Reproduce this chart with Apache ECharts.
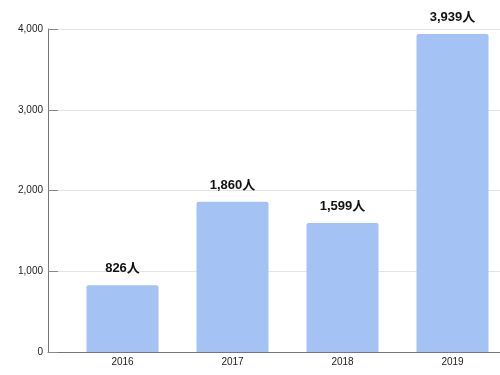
<!DOCTYPE html>
<html>
<head>
<meta charset="utf-8">
<script src="https://cdn.jsdelivr.net/npm/echarts@6/dist/echarts.min.js"></script>
<style>
html,body{margin:0;padding:0;background:#fff;}
#c{width:500px;height:375px;}
</style>
</head>
<body>
<div id="c"></div>
<script>
const years = ['2016', '2017', '2018', '2019'];
const people = [826, 1860, 1599, 3939];
const yTicks = [0, 1000, 2000, 3000, 4000];

const chart = echarts.init(document.getElementById('c'), null, {renderer: 'canvas'});
const fontFam = "'Liberation Sans', Arial, 'Noto Sans CJK JP', sans-serif";
chart.setOption({
  animation: false,
  backgroundColor: '#ffffff',
  grid: [
    {left: 48, right: 0, top: 29, bottom: 23, outerBoundsMode: 'none', containLabel: false},
    {left: 67.5, right: -7.5, top: 29, bottom: 23, outerBoundsMode: 'none', containLabel: false}
  ],
  xAxis: [
    {
      gridIndex: 0, type: 'value', min: 0, max: 1,
      axisLine: {show: true, lineStyle: {color: '#777', width: 1}},
      axisTick: {show: false}, axisLabel: {show: false}, splitLine: {show: false}
    },
    {
      gridIndex: 1, type: 'category', data: years,
      axisLine: {show: false}, axisTick: {show: false},
      axisLabel: {color: '#222', fontSize: 10, fontFamily: fontFam, margin: 5}
    }
  ],
  yAxis: [
    {
      gridIndex: 0, type: 'value', min: yTicks[0], max: yTicks[yTicks.length - 1], interval: 1000,
      axisLine: {show: true, lineStyle: {color: '#777', width: 1}},
      axisTick: {show: true, inside: true, length: 10, lineStyle: {color: '#888'}},
      axisLabel: {color: '#222', fontSize: 10, fontFamily: fontFam, margin: 5,
        formatter: v => v.toLocaleString('en-US')},
      splitLine: {show: true, lineStyle: {color: '#e4e4e4', width: 1}}
    },
    {
      gridIndex: 1, type: 'value', min: yTicks[0], max: yTicks[yTicks.length - 1],
      show: false, splitLine: {show: false}
    }
  ],
  series: [{
    type: 'bar',
    xAxisIndex: 1, yAxisIndex: 1,
    data: people,
    barWidth: 72,
    itemStyle: {color: '#a4c2f4', borderRadius: [2, 2, 0, 0]},
    label: {
      show: true, position: 'top', distance: 10,
      color: '#111', fontSize: 13, fontWeight: 'bold', fontFamily: fontFam,
      formatter: p => p.value.toLocaleString('en-US') + '人'
    }
  }]
});
</script>
</body>
</html>
